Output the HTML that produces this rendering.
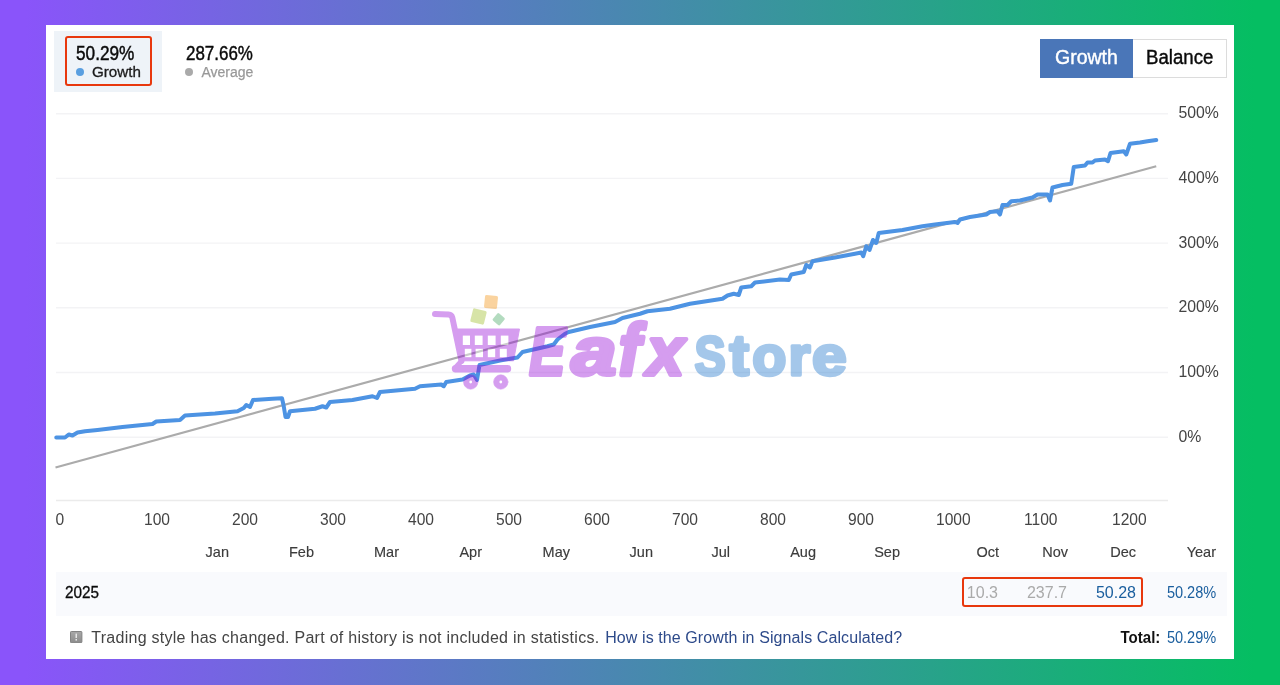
<!DOCTYPE html>
<html lang="en">
<head>
<meta charset="utf-8">
<title>Growth chart</title>
<style>
html,body{margin:0;padding:0;}
body{width:1280px;height:685px;overflow:hidden;position:relative;font-family:"Liberation Sans",sans-serif;
background:linear-gradient(90deg,#8a54fa 0%,#8a54fa 2%,#05be62 98%,#05be62 100%);}
#card{position:absolute;left:46px;top:24.7px;width:1188px;height:634.2px;background:#fff;}
.abs{position:absolute;white-space:nowrap;line-height:1;}
#tabbg{position:absolute;left:53.6px;top:31.4px;width:108.2px;height:60.4px;background:#eef3f8;}
#red1{position:absolute;left:65px;top:35.5px;width:82.5px;height:46px;border:2.4px solid #e8380d;border-radius:3px;}
.big{font-size:20px;color:#0a0a0a;transform-origin:0 50%;-webkit-text-stroke:0.45px #0a0a0a;}
.sm{font-size:14.5px;}
.dot{position:absolute;width:8px;height:8px;border-radius:50%;}
#btnG{position:absolute;left:1040px;top:39px;width:92.5px;height:39px;background:#4a76b8;}
#btnB{position:absolute;left:1132.5px;top:39px;width:93px;height:37px;background:#fff;border:1px solid #dcdcdc;border-left:none;}
.btxt{font-size:19.5px;transform-origin:0 50%;}
.yl{position:absolute;left:1178.5px;font-size:15.8px;color:#444;line-height:20px;white-space:nowrap;}
.xl{position:absolute;top:510.1px;font-size:15.6px;color:#444;line-height:20px;white-space:nowrap;}
.ml{position:absolute;top:542px;font-size:14.5px;color:#3c3c3c;-webkit-text-stroke:0.15px #3c3c3c;line-height:20px;white-space:nowrap;text-align:right;}
#row{position:absolute;left:56px;top:572px;width:1171px;height:44px;background:#f9fafd;}
#red2{position:absolute;left:962px;top:576.5px;width:176.5px;height:26.5px;border:2.5px solid #e8380d;border-radius:3px;}
.rv{position:absolute;top:583px;font-size:16px;line-height:20px;white-space:nowrap;text-align:right;}
.ft{position:absolute;top:627.7px;font-size:16px;letter-spacing:0.21px;line-height:20px;white-space:nowrap;color:#444;}
.link{color:#2d4a8a;}
.blue{color:#1a5e9e;}
</style>
</head>
<body>
<div id="card"></div>
<div id="tabbg"></div>
<div id="red1"></div>
<div class="abs big" id="t1" style="left:76px;top:42.5px;transform:scaleX(0.86);">50.29%</div>
<div class="dot" style="left:76px;top:68px;background:#5a9fe0;"></div>
<div class="abs" id="t2" style="left:92px;top:63.9px;color:#1a1a1a;font-size:15.2px;-webkit-text-stroke:0.3px #1a1a1a;">Growth</div>
<div class="abs big" id="t3" style="left:185.5px;top:42.5px;transform:scaleX(0.847);">287.66%</div>
<div class="dot" style="left:185px;top:68px;background:#aaa;"></div>
<div class="abs" id="t4" style="left:201.5px;top:65.1px;color:#999;font-size:14px;-webkit-text-stroke:0.25px #999;">Average</div>

<div id="btnG"></div>
<div id="btnB"></div>
<div class="abs btxt" id="b1" style="left:1055px;top:48.3px;color:#fff;-webkit-text-stroke:0.4px #fff;">Growth</div>
<div class="abs btxt" id="b2" style="left:1145.5px;top:48.3px;color:#0a0a0a;-webkit-text-stroke:0.4px #0a0a0a;transform:scaleX(0.955);">Balance</div>

<svg id="chart" class="abs" style="left:0;top:0" width="1280" height="685" viewBox="0 0 1280 685">
<line x1="56" x2="1168" y1="113.7" y2="113.7" stroke="#f3f3f5" stroke-width="1.4"/>
<line x1="56" x2="1168" y1="178.4" y2="178.4" stroke="#f3f3f5" stroke-width="1.4"/>
<line x1="56" x2="1168" y1="243.1" y2="243.1" stroke="#f3f3f5" stroke-width="1.4"/>
<line x1="56" x2="1168" y1="307.8" y2="307.8" stroke="#f3f3f5" stroke-width="1.4"/>
<line x1="56" x2="1168" y1="372.5" y2="372.5" stroke="#f3f3f5" stroke-width="1.4"/>
<line x1="56" x2="1168" y1="437.2" y2="437.2" stroke="#f3f3f5" stroke-width="1.4"/>
<line x1="56" x2="1168" y1="500.5" y2="500.5" stroke="#ebebeb" stroke-width="1.3"/>
<line x1="55.5" y1="467.5" x2="1156.25" y2="166.25" stroke="#ababab" stroke-width="2.3"/>
<polyline fill="none" stroke="#4d93e3" stroke-width="4" stroke-linejoin="round" stroke-linecap="round" points="56.25,437.5 65,437.5 68.75,434.5 72.5,435.5 77.5,432.5 85,431.25 97.5,430 122.5,427 152.5,424 156.25,421.5 180,420 185,415.5 215,413.5 237.5,411.25 243.75,408 246.25,405 250,407 253,400 272.5,398.75 282,398.25 283.75,406.25 285.5,417 288,417 290,411.25 315,408.75 322.5,406.25 326.25,407.5 330,402 352.5,400 372.5,396.25 377,398 380,392 415,388.75 420,386.25 441.25,384.5 443.75,386.25 446.25,382 462.5,379.5 470,375.5 473.75,374.5 477,380 479.5,365 500,360.5 517.5,357.5 522.5,352 540,348 547.5,346.25 553.75,344.5 557.5,339.5 565,333.75 568.75,332 590,327 615,322 622.5,318 640,313.75 647.5,311.25 670,308.75 690,303.75 722.5,298.75 727.5,295.5 733.75,293.75 738.75,295 741.25,287.5 751.25,286.25 755,282.5 780,279.5 788.75,280 791.25,274.5 803.75,272 806.25,265 810,267.5 812.5,261.25 835,257.5 855,253.75 861.25,252.5 863.25,256.25 866.25,246.25 869.5,250 873,240 876.25,243 878.75,233 902.5,230 922.5,226.25 935,224.5 955,222 957.5,223 960,219.5 970,217 986.25,214.5 990,212 997.5,211.25 1000,214.5 1002.5,205 1007.5,205 1011.25,201.25 1020,200.5 1032.5,197.5 1037.5,194.5 1047.5,194.5 1050,200.5 1052.5,187.5 1062.5,185 1071.25,183.75 1073.75,167 1085,165.5 1087.5,162.5 1092.5,162.5 1095,160.5 1105,159.5 1108,161.25 1110.5,153 1123.75,151.25 1126.25,154.5 1130,143.75 1140,142.5 1147.5,141.25 1156.25,140"/>
</svg>
<div class="yl" style="top:103.1px">500%</div>
<div class="yl" style="top:167.8px">400%</div>
<div class="yl" style="top:232.5px">300%</div>
<div class="yl" style="top:297.2px">200%</div>
<div class="yl" style="top:361.9px">100%</div>
<div class="yl" style="top:426.6px">0%</div>
<div class="xl" style="left:55.5px">0</div>
<div class="xl" style="left:144.0px">100</div>
<div class="xl" style="left:232.0px">200</div>
<div class="xl" style="left:320.0px">300</div>
<div class="xl" style="left:408.0px">400</div>
<div class="xl" style="left:496.0px">500</div>
<div class="xl" style="left:584.0px">600</div>
<div class="xl" style="left:672.0px">700</div>
<div class="xl" style="left:760.0px">800</div>
<div class="xl" style="left:848.0px">900</div>
<div class="xl" style="left:936.0px">1000</div>
<div class="xl" style="left:1024.0px">1100</div>
<div class="xl" style="left:1112.0px">1200</div>
<div class="ml" style="right:1051px">Jan</div>
<div class="ml" style="right:966px">Feb</div>
<div class="ml" style="right:881px">Mar</div>
<div class="ml" style="right:798px">Apr</div>
<div class="ml" style="right:710px">May</div>
<div class="ml" style="right:627px">Jun</div>
<div class="ml" style="right:550px">Jul</div>
<div class="ml" style="right:464px">Aug</div>
<div class="ml" style="right:380px">Sep</div>
<div class="ml" style="right:281px">Oct</div>
<div class="ml" style="right:212px">Nov</div>
<div class="ml" style="right:144px">Dec</div>
<div class="ml" style="right:64px">Year</div>
<div id="row"></div>
<div class="abs" id="yr" style="left:65px;top:585.3px;font-size:16px;color:#0a0a0a;-webkit-text-stroke:0.3px #0a0a0a;transform-origin:0 50%;transform:scaleX(0.955);">2025</div>
<div id="red2"></div>
<div class="rv" style="right:282px;color:#aaa;">10.3</div>
<div class="rv" style="right:213px;color:#aaa;">237.7</div>
<div class="rv blue" style="right:144px;">50.28</div>
<div class="rv blue" style="right:63.5px;transform-origin:100% 50%;transform:scaleX(0.91);">50.28%</div>

<svg class="abs" style="left:70.3px;top:630.6px" width="12.4" height="12.2" viewBox="0 0 12.4 12.2"><defs><linearGradient id="ig" x1="0" y1="0" x2="0" y2="1"><stop offset="0" stop-color="#a8a8a8"/><stop offset="1" stop-color="#8c8c8c"/></linearGradient></defs><rect x="0.5" y="0.5" width="11.4" height="11.2" rx="0.8" fill="url(#ig)" stroke="#828282" stroke-width="1"/><rect x="5.5" y="2.6" width="1.5" height="4.4" fill="#e6e6e6"/><rect x="5.5" y="8" width="1.5" height="1.6" fill="#e6e6e6"/></svg>
<div class="ft" id="f1" style="left:91.3px;letter-spacing:0.268px;">Trading style has changed. Part of history is not included in statistics.</div>
<div class="ft link" id="f1b" style="left:605.2px;letter-spacing:0.09px;">How is the Growth in Signals Calculated?</div>
<div class="ft" id="f2" style="right:119.5px;letter-spacing:0;transform-origin:100% 50%;transform:scaleX(0.94);"><b style="color:#111">Total:</b></div>
<div class="ft blue" id="f3" style="right:63.5px;letter-spacing:0;transform-origin:100% 50%;transform:scaleX(0.91);">50.29%</div>

<!-- watermark logo -->
<svg class="abs" style="left:0;top:0;opacity:0.4" width="1280" height="685" viewBox="0 0 1280 685">
<g fill="#980cd9" stroke="#980cd9" stroke-linecap="round" stroke-linejoin="round">
<path d="M435 314 L448.5 314.5 Q451.5 314.8 452.3 317.5 L461.5 361" fill="none" stroke-width="6"/>
<path d="M457 329 L519.5 329 L513.5 360.8 L461.5 360.8 Z" stroke-width="1"/>
<path d="M461.5 361 L456 367" fill="none" stroke-width="5"/>
<path d="M455.5 368.8 L507.5 368.8" fill="none" stroke-width="7.4"/>
<circle cx="470.7" cy="382" r="7.2" stroke-width="0.6"/><circle cx="500.8" cy="382" r="7.2" stroke-width="0.6"/>
</g>
<g fill="#fff">
<rect x="462.8" y="335.6" width="7.2" height="9.4"/><rect x="474.8" y="335.6" width="7.8" height="9.4"/><rect x="487.8" y="335.6" width="7.8" height="9.4"/><rect x="500.8" y="335.6" width="7.6" height="9.4"/>
<rect x="464.8" y="348.8" width="6.6" height="8.4"/><rect x="475.6" y="348.8" width="7.4" height="8.4"/><rect x="487.8" y="348.8" width="7.4" height="8.4"/><rect x="499.8" y="348.8" width="7" height="8.4"/>
<circle cx="470.7" cy="382" r="1.4"/><circle cx="500.8" cy="382" r="1.4"/>
</g>
<rect x="484.5" y="295.5" width="13" height="13" rx="1.5" fill="#f59412" transform="rotate(6 491 302)"/>
<rect x="471.5" y="309.5" width="14" height="14" rx="1.5" fill="#9ebc26" transform="rotate(14 478.5 316.5)"/>
<rect x="494" y="314.5" width="9.5" height="9.5" rx="1.5" fill="#44a862" transform="rotate(40 498.7 319.2)"/>
<text transform="translate(529.3 375.0) scale(0.538 0.692)" font-family="Liberation Sans, sans-serif" font-weight="bold" font-style="italic" font-size="100" fill="#980cd9" stroke="#980cd9" stroke-width="6" stroke-linejoin="round">E</text>
<text transform="translate(571.2 375.1) scale(0.810 0.679)" font-family="Liberation Sans, sans-serif" font-weight="bold" font-style="italic" font-size="100" fill="#980cd9" stroke="#980cd9" stroke-width="6" stroke-linejoin="round">a</text>
<text transform="translate(618.7 374.9) scale(0.656 0.720)" font-family="Liberation Sans, sans-serif" font-weight="bold" font-style="italic" font-size="100" fill="#980cd9" stroke="#980cd9" stroke-width="6" stroke-linejoin="round">f</text>
<text transform="translate(646.7 375.0) scale(0.672 0.690)" font-family="Liberation Sans, sans-serif" font-weight="bold" font-style="italic" font-size="100" fill="#980cd9" stroke="#980cd9" stroke-width="6" stroke-linejoin="round">x</text>
<text transform="translate(694.4 375.1) scale(0.468 0.547)" font-family="Liberation Sans, sans-serif" font-weight="bold" font-style="normal" font-size="100" fill="#1e76cd" stroke="#1e76cd" stroke-width="6" stroke-linejoin="round">S</text>
<text transform="translate(729.4 375.0) scale(0.586 0.565)" font-family="Liberation Sans, sans-serif" font-weight="bold" font-style="normal" font-size="100" fill="#1e76cd" stroke="#1e76cd" stroke-width="6" stroke-linejoin="round">t</text>
<text transform="translate(752.2 375.1) scale(0.559 0.552)" font-family="Liberation Sans, sans-serif" font-weight="bold" font-style="normal" font-size="100" fill="#1e76cd" stroke="#1e76cd" stroke-width="6" stroke-linejoin="round">o</text>
<text transform="translate(788.5 375.2) scale(0.564 0.555)" font-family="Liberation Sans, sans-serif" font-weight="bold" font-style="normal" font-size="100" fill="#1e76cd" stroke="#1e76cd" stroke-width="6" stroke-linejoin="round">r</text>
<text transform="translate(812.0 375.1) scale(0.624 0.552)" font-family="Liberation Sans, sans-serif" font-weight="bold" font-style="normal" font-size="100" fill="#1e76cd" stroke="#1e76cd" stroke-width="6" stroke-linejoin="round">e</text>
</svg>
</body>
</html>
